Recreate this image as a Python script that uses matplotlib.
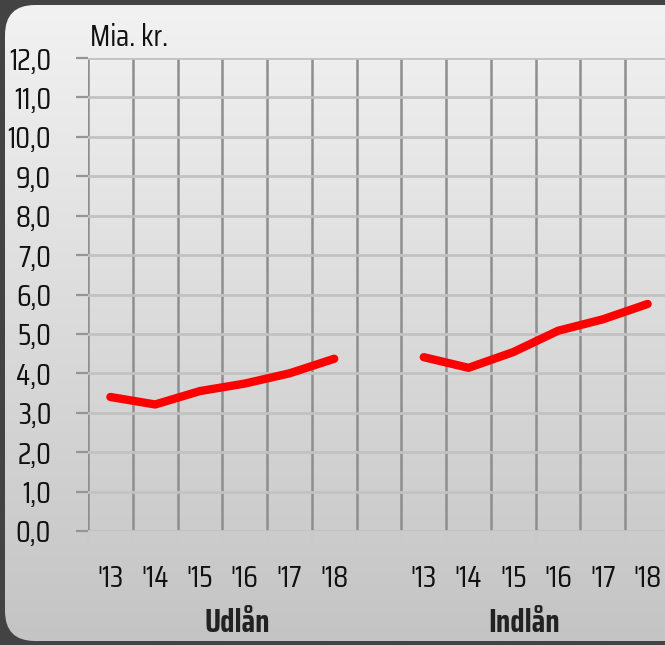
import numpy as np
import matplotlib
matplotlib.use("Agg")
import matplotlib.pyplot as plt
from matplotlib.patches import FancyBboxPatch

plt.rcParams['font.family'] = ['Saira Condensed', 'DejaVu Sans']

# Data
years = ["'13", "'14", "'15", "'16", "'17", "'18"]
groups = ["Udlån", "Indlån"]
udlan = [3.40, 3.21, 3.55, 3.74, 4.00, 4.37]
indlan = [4.41, 4.14, 4.54, 5.08, 5.37, 5.76]
yticks = np.arange(0, 13)
ylabels = ["%d,0" % v for v in yticks]

W, H = 665, 645
fig = plt.figure(figsize=(W/100, H/100), dpi=100)
fig.patch.set_facecolor('#434343')

# rounded light panel with vertical gradient
bg = fig.add_axes([0, 0, 1, 1])
bg.set_xlim(0, W)
bg.set_ylim(H, 0)
bg.axis('off')
panel = FancyBboxPatch((5, 5), 720, 636, boxstyle="round,pad=0,rounding_size=30",
                       facecolor='none', edgecolor='none')
bg.add_patch(panel)
grad = np.linspace(0, 1, 256).reshape(-1, 1)
img = bg.imshow(grad, extent=[5, 725, 641, 5], cmap=plt.cm.colors.LinearSegmentedColormap.from_list(
    'g', ['#f2f2f2', '#c4c4c4']), aspect='auto', zorder=0)
img.set_clip_path(panel)

n = len(years)
x_udlan = np.arange(n) + 0.5
x_indlan = x_udlan + n + 1
ncell = 2*n + 1

ax = fig.add_axes([88/W, 114/H, 582/W, 473/H])
ax.set_facecolor('none')
ax.set_xlim(0, ncell)
ax.set_ylim(0, 12)
for s in ax.spines.values():
    s.set_visible(False)

ax.set_yticks(yticks)
ax.set_yticklabels(ylabels, fontsize=22, color='#111111')
ax.yaxis.grid(True, color='#c2c2c2', lw=2)
ax.tick_params(axis='y', length=8.5, width=1.6, color='#959595', pad=18)

# vertical cell lines
ax.vlines(np.arange(ncell + 1), 0, 12, color='#8e8e8e', lw=1.8, zorder=1)
ax.set_xticks(np.arange(ncell + 1), minor=True)
ax.tick_params(axis='x', which='minor', length=8.5, width=1.6, color='#cacaca')
ax.set_xticks(np.concatenate([x_udlan, x_indlan]))
ax.set_xticklabels(years + years, fontsize=22, color='#111111')
ax.tick_params(axis='x', which='major', length=0, pad=24)

ax.plot(x_udlan, udlan, color='#ff0000', lw=6, solid_capstyle='round',
        solid_joinstyle='round', zorder=3)
ax.plot(x_indlan, indlan, color='#ff0000', lw=6, solid_capstyle='round',
        solid_joinstyle='round', zorder=3)

# group labels (placed a bit inwards, as in the original)
for g, xpix in zip(groups, [237, 524]):
    fig.text(xpix/W, 1 - 623/H, g, ha='center', va='center', fontsize=23,
             fontweight='bold', color='#222222')

fig.text(90/W, 1 - 38/H, "Mia. kr.", fontsize=22, va='center', ha='left', color='#111111')

fig.savefig("out.png", dpi=100, facecolor=fig.get_facecolor())
